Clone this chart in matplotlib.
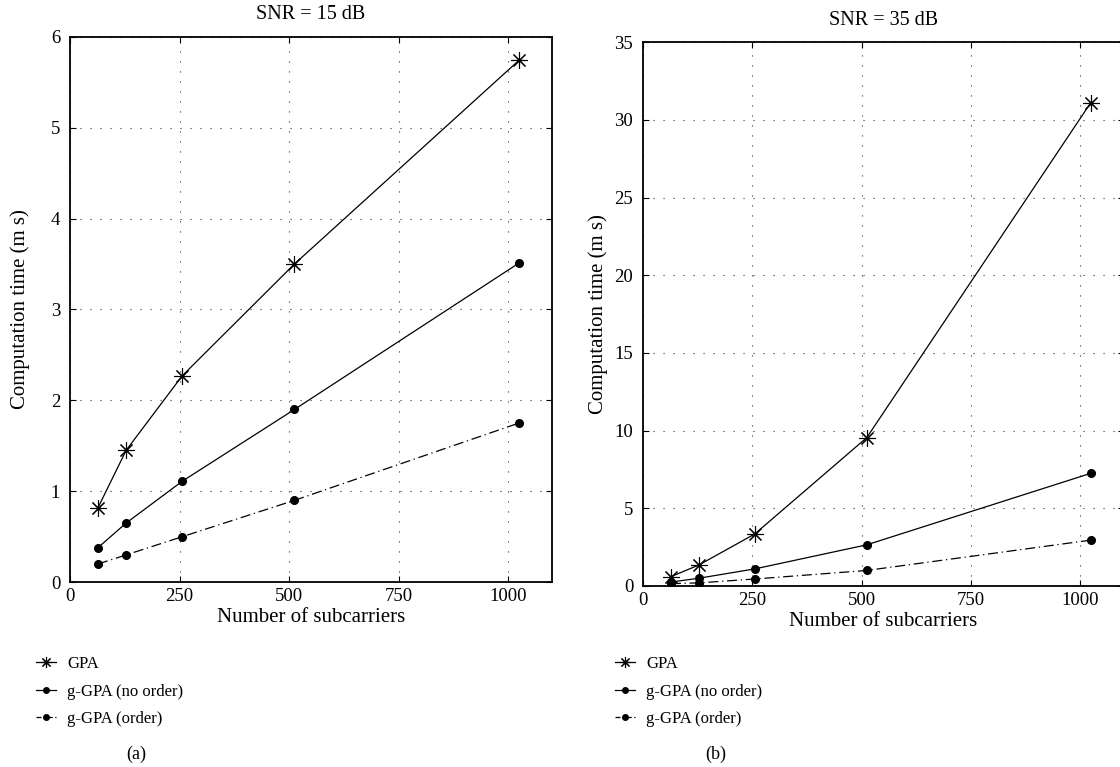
"""Computation time vs number of subcarriers, two SNR panels."""
import matplotlib
matplotlib.use("Agg")
import matplotlib.pyplot as plt
from matplotlib.lines import Line2D

plt.rcParams["font.family"] = ["Liberation Serif", "DejaVu Serif"]
plt.rcParams["font.size"] = 12

n_sub = [64, 128, 256, 512, 1024]

# SNR = 15 dB
gpa_15 = [0.82, 1.45, 2.27, 3.50, 5.74]
noord_15 = [0.38, 0.65, 1.11, 1.90, 3.51]
ord_15 = [0.20, 0.30, 0.50, 0.90, 1.75]

# SNR = 35 dB
gpa_35 = [0.60, 1.35, 3.35, 9.55, 31.1]
noord_35 = [0.25, 0.50, 1.10, 2.65, 7.25]
ord_35 = [0.15, 0.20, 0.45, 1.00, 2.95]

labels = ["GPA", "g-GPA (no order)", "g-GPA (order)"]

STAR = (8, 2, 0)          # asterisk, like matlab '*'
DASHDOT = (0, (8, 3, 1, 3))

fig = plt.figure(figsize=(11.2, 7.67), dpi=100)
ax_a = fig.add_axes([0.0625, 0.241, 0.4305, 0.711])
ax_b = fig.add_axes([0.574, 0.236, 0.4295, 0.709])


def panel(ax, gpa, noord, ordr, ymax, ystep, title, tag, leg_x, ylab_x):
    ax.plot(n_sub, gpa, "-", color="black", lw=0.9, marker=STAR, ms=12,
            markeredgewidth=0.8)
    ax.plot(n_sub, noord, "-", color="black", lw=0.9, marker="o", ms=5.5)
    ax.plot(n_sub, ordr, color="black", lw=0.9, marker="o", ms=5.5,
            linestyle=DASHDOT)
    ax.set_xlim(0, 1100)
    ax.set_ylim(0, ymax)
    ax.set_xticks([0, 250, 500, 750, 1000])
    ax.set_yticks([i * ystep for i in range(int(round(ymax / ystep)) + 1)])
    ax.grid(True, color="#333333", linestyle=(0, (1, 8)), lw=0.8)
    ax.tick_params(direction="in", top=True, right=True, length=4, labelsize=13.5)
    ax.tick_params(axis="x", pad=4)
    ax.tick_params(axis="y", pad=7)
    for s in ax.spines.values():
        s.set_linewidth(1.3)
    ax.set_title(title, fontsize=14.5, pad=12.5)
    ax.set_xlabel("Number of subcarriers", fontsize=15)
    ax.xaxis.label.set_va("center")
    ax.xaxis.set_label_coords(0.5, -0.065)
    ax.set_ylabel("Computation time (m s)", fontsize=15)
    ax.yaxis.label.set_va("center")
    ax.yaxis.set_label_coords(ylab_x, 0.5)

    handles = [
        Line2D([], [], color="black", lw=0.9, marker=STAR, ms=8, markeredgewidth=0.8),
        Line2D([], [], color="black", lw=0.9, marker="o", ms=4),
        Line2D([], [], color="black", lw=0.9, marker="o", ms=4, linestyle=(0, (4, 2, 1, 2))),
    ]
    fig.legend(handles, labels, loc="upper left",
               bbox_to_anchor=(leg_x, 0.153), frameon=False, fontsize=12,
               handlelength=1.2, handletextpad=0.7, labelspacing=0.68,
               borderaxespad=0)
    fig.text(leg_x + 0.096, 0.010, tag, fontsize=13, ha="center")


panel(ax_a, gpa_15, noord_15, ord_15, 6, 1, "SNR = 15 dB", "(a)", 0.026, -0.104)
panel(ax_b, gpa_35, noord_35, ord_35, 35, 5, "SNR = 35 dB", "(b)", 0.543, -0.092)

fig.savefig("out.png", dpi=100)
